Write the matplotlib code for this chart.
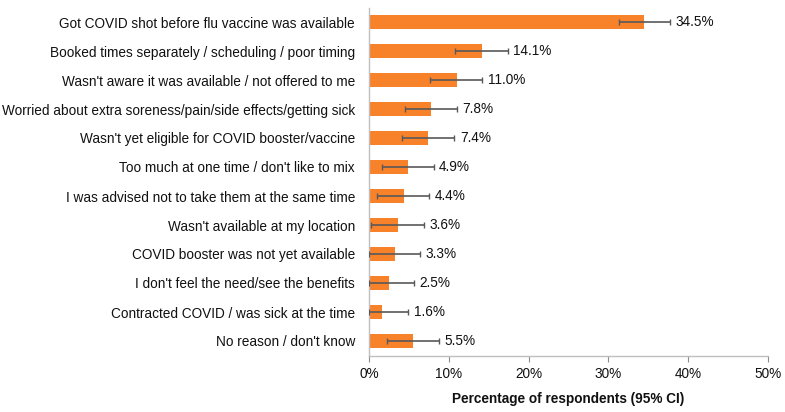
import numpy as np
import matplotlib
matplotlib.use('Agg')
import matplotlib.pyplot as plt

plt.rcParams['font.family'] = ['Liberation Sans', 'DejaVu Sans']

# Reasons, top to bottom
reasons = [
    'Got COVID shot before flu vaccine was available',
    'Booked times separately / scheduling / poor timing',
    "Wasn't aware it was available / not offered to me",
    'Worried about extra soreness/pain/side effects/getting sick',
    "Wasn't yet eligible for COVID booster/vaccine",
    "Too much at one time / don't like to mix",
    'I was advised not to take them at the same time',
    "Wasn't available at my location",
    'COVID booster was not yet available',
    "I don't feel the need/see the benefits",
    'Contracted COVID / was sick at the time',
    "No reason / don't know",
]
pct = [34.5, 14.1, 11.0, 7.8, 7.4, 4.9, 4.4, 3.6, 3.3, 2.5, 1.6, 5.5]
ci_low = [31.3, 10.8, 7.7, 4.5, 4.1, 1.6, 1.0, 0.3, 0.0, 0.0, 0.0, 2.2]
ci_high = [37.7, 17.4, 14.2, 11.0, 10.7, 8.1, 7.5, 6.9, 6.4, 5.6, 4.9, 8.8]

pct = np.array(pct)
lo = pct - np.array(ci_low)
hi = np.array(ci_high) - pct
y = np.arange(len(reasons))

fig = plt.figure(figsize=(7.85, 4.12), dpi=100)
ax = fig.add_axes([369 / 785, 1 - 355.5 / 412, 399 / 785, 348 / 412])

ax.barh(y, pct, height=0.45, color='#F7822A', zorder=2)
ax.errorbar(pct, y, xerr=[lo, hi], fmt='none', ecolor='#595959',
            elinewidth=1.2, capsize=2.5, capthick=1, zorder=3)

for yi, v, top in zip(y, pct, ci_high):
    ax.text(top + 0.7, yi, '%.1f%%' % v, va='center', ha='left',
            fontsize=9.8, color='#111111')

ax.set_ylim(len(reasons) - 0.5, -0.5)
ax.set_xlim(0, 50)
ax.set_yticks(y)
ax.set_yticklabels(reasons, fontsize=9.8, color='#111111')
ax.tick_params(axis='y', length=0, pad=10)
ax.set_xticks(np.arange(0, 51, 10))
ax.set_xticklabels(['%d%%' % t for t in range(0, 51, 10)], fontsize=9.8,
                   color='#111111')
ax.tick_params(axis='x', length=4, color='#8c8c8c', pad=4)
ax.set_xlabel('Percentage of respondents (95% CI)', fontsize=9.8,
              fontweight='bold', labelpad=8, color='#111111')

for side in ['top', 'right']:
    ax.spines[side].set_visible(False)
for side in ['left', 'bottom']:
    ax.spines[side].set_color('#bfbfbf')
    ax.spines[side].set_linewidth(1)

fig.savefig('out.png', dpi=100)
